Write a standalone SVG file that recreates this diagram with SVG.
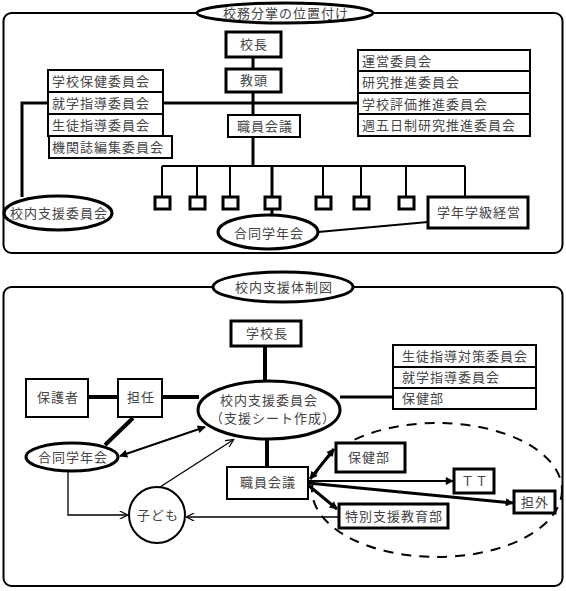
<svg xmlns="http://www.w3.org/2000/svg" width="566" height="591" viewBox="0 0 566 591">
<defs>
<style>
text{font-family:"Noto Sans CJK JP","Noto Sans CJK SC",sans-serif;font-size:13px;fill:#444;letter-spacing:1px}
.b{fill:#fff;stroke:#000;stroke-width:2}
.bt{fill:#fff;stroke:#000;stroke-width:3}
.l{fill:none;stroke:#000;stroke-width:2}
.lt{fill:none;stroke:#000;stroke-width:3}
.lx{fill:none;stroke:#000;stroke-width:4}
.ln{fill:none;stroke:#000;stroke-width:1.3}
.m{text-anchor:middle}
</style>
<marker id="ah" viewBox="0 0 10 10" refX="9" refY="5" markerWidth="12" markerHeight="8" markerUnits="userSpaceOnUse" orient="auto-start-reverse">
<path d="M0,0 L10,5 L0,10 z" fill="#000"/>
</marker>
<marker id="ao" viewBox="0 0 10 10" refX="9" refY="5" markerWidth="12" markerHeight="8" markerUnits="userSpaceOnUse" orient="auto">
<path d="M0,0 L10,5 L0,10" fill="none" stroke="#000" stroke-width="1.5"/>
</marker>
</defs>
<rect width="566" height="591" fill="#fff"/>

<!-- Top panel -->
<g id="panel1">
<rect x="3.5" y="13" width="559" height="240" rx="8" class="l"/>
</g>
<g id="connectors1">
<path class="lt" d="M253,57 V69 M253,92 V115 M163,103 H358"/>
<path class="lt" d="M48,103 H22 V197"/>
<path class="lt" d="M253,137 V166"/>
<path class="l" d="M162,166 H465 M162,166 V197 M197,166 V197 M230,166 V197 M323,166 V197 M361,166 V197 M406,166 V197 M465,166 V197"/>
<path class="lt" d="M272,166 V197 M272,209 V216"/>
<path class="l" d="M318,232 L428,222"/>
</g>
<g id="title1">
<ellipse cx="285" cy="13" rx="88" ry="10" class="bt"/>
<text x="286" y="18" class="m">校務分掌の位置付け</text>
</g>
<g id="kocho"><rect x="226" y="32" width="55" height="25" class="bt"/><text x="254" y="49" class="m">校長</text></g>
<g id="kyoto"><rect x="226" y="69" width="55" height="23" class="bt"/><text x="254" y="85" class="m">教頭</text></g>
<g id="shokuin1"><rect x="228" y="115" width="72" height="22" class="b"/><text x="265" y="131" class="m">職員会議</text></g>
<g id="leftstack">
<rect x="48" y="70" width="115" height="22" class="b"/><text x="52" y="86">学校保健委員会</text>
<rect x="48" y="92" width="115" height="22" class="b"/><text x="52" y="108">就学指導委員会</text>
<rect x="48" y="114" width="115" height="22" class="b"/><text x="52" y="130">生徒指導委員会</text>
<rect x="49" y="136" width="123" height="22" class="b"/><text x="52" y="152">機関誌編集委員会</text>
</g>
<g id="rightstack">
<rect x="358" y="50" width="172" height="21" class="b"/><text x="362" y="66">運営委員会</text>
<rect x="358" y="71" width="172" height="22" class="b"/><text x="362" y="87">研究推進委員会</text>
<rect x="358" y="93" width="172" height="21" class="b"/><text x="362" y="109">学校評価推進委員会</text>
<rect x="358" y="114" width="172" height="22" class="b"/><text x="362" y="130">週五日制研究推進委員会</text>
</g>
<g id="konaishien1"><ellipse cx="58" cy="213" rx="54" ry="17" class="bt"/><text x="59" y="218" class="m">校内支援委員会</text></g>
<g id="grades">
<rect x="155" y="197" width="15" height="12" class="bt"/>
<rect x="190" y="197" width="15" height="12" class="bt"/>
<rect x="223" y="197" width="15" height="12" class="bt"/>
<rect x="265" y="197" width="15" height="12" class="bt"/>
<rect x="316" y="197" width="15" height="12" class="bt"/>
<rect x="354" y="197" width="15" height="12" class="bt"/>
<rect x="399" y="197" width="15" height="12" class="bt"/>
</g>
<g id="gakunen"><rect x="428" y="197" width="100" height="31" class="bt"/><text x="479" y="217" class="m">学年学級経営</text></g>
<g id="godo1"><ellipse cx="268" cy="232" rx="50" ry="17" class="bt"/><text x="269" y="238" class="m">合同学年会</text></g>

<!-- Bottom panel -->
<g id="panel2">
<rect x="3.5" y="287" width="559" height="299" rx="8" class="l"/>
<ellipse cx="437" cy="490" rx="125" ry="67" fill="none" stroke="#000" stroke-width="2" stroke-dasharray="10 8"/>
</g>
<g id="connectors2">
<path class="lx" d="M265,346 V382"/>
<path class="lt" d="M340,397 H393"/>
<path class="lx" d="M88,397 H118 M162,397 H199"/>
<path class="lx" d="M133,418 L105,445"/>
<path class="lx" d="M267,439 V467"/>
<path class="l" d="M120,456 L205,427" marker-start="url(#ah)" marker-end="url(#ah)"/>
<path class="ln" d="M160,487 L233,440" marker-end="url(#ao)"/>
<path class="ln" d="M68,471 V515 H127" marker-end="url(#ao)"/>
<path class="ln" d="M339,517 H187" marker-end="url(#ao)"/>
<path class="lt" d="M310,479 L334,449" marker-start="url(#ah)" marker-end="url(#ah)"/>
<path class="l" d="M308,481 H453" marker-end="url(#ah)"/>
<path class="lt" d="M308,483 L513,503" marker-end="url(#ah)"/>
<path class="lt" d="M308,485 L337,509" marker-end="url(#ah)"/>
</g>
<g id="title2">
<ellipse cx="283" cy="287" rx="70" ry="15" class="bt"/>
<text x="284" y="292" class="m">校内支援体制図</text>
</g>
<g id="gakkocho"><rect x="231" y="321" width="70" height="25" class="bt"/><text x="267" y="338" class="m">学校長</text></g>
<g id="rightstack2">
<rect x="393" y="345" width="143" height="22" class="b"/><text x="402" y="361">生徒指導対策委員会</text>
<rect x="393" y="367" width="143" height="21" class="b"/><text x="402" y="382">就学指導委員会</text>
<rect x="393" y="388" width="143" height="21" class="b"/><text x="402" y="403">保健部</text>
</g>
<g id="hogosha"><rect x="26" y="379" width="62" height="38" class="b"/><text x="58" y="402" class="m">保護者</text></g>
<g id="tannin"><rect x="118" y="379" width="44" height="38" class="b"/><text x="141" y="402" class="m">担任</text></g>
<g id="konaishien2"><ellipse cx="269" cy="410" rx="71" ry="29" class="bt"/><text x="269" y="405" class="m">校内支援委員会</text><text x="273" y="423" class="m">（支援シート作成）</text></g>
<g id="godo2"><ellipse cx="72" cy="457" rx="46" ry="14" class="bt"/><text x="73" y="462" class="m">合同学年会</text></g>
<g id="kodomo"><circle cx="157" cy="515" r="28" class="b"/><text x="158" y="520" class="m">子ども</text></g>
<g id="shokuin2"><rect x="227" y="467" width="81" height="32" class="b"/><text x="268" y="487" class="m">職員会議</text></g>
<g id="hokenbu"><rect x="336" y="443" width="69" height="29" class="bt"/><text x="369" y="462" class="m">保健部</text></g>
<g id="tt"><rect x="454" y="469" width="40" height="24" class="bt"/><text x="475" y="486" class="m">ＴＴ</text></g>
<g id="tangai"><rect x="514" y="491" width="41" height="22" class="bt"/><text x="535" y="507" class="m">担外</text></g>
<g id="tokubetsu"><rect x="339" y="504" width="109" height="24" class="bt"/><text x="394" y="521" class="m">特別支援教育部</text></g>
</svg>
